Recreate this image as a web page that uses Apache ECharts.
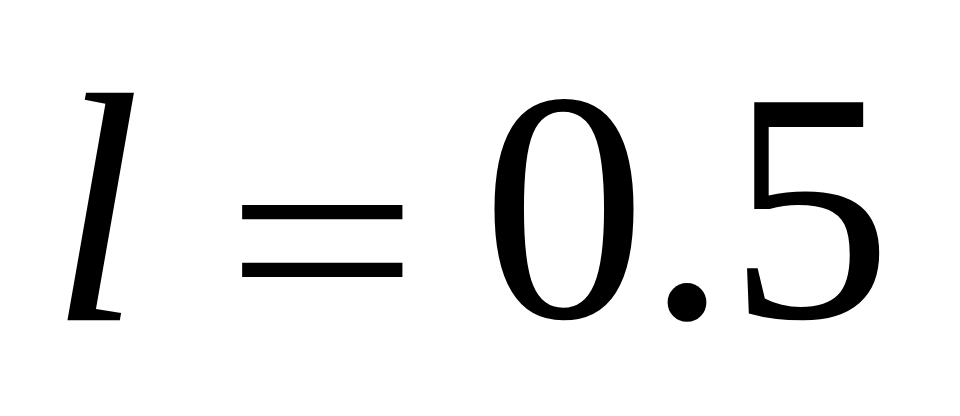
<!DOCTYPE html>
<html>
<head>
<meta charset="utf-8">
<script src="https://cdn.jsdelivr.net/npm/echarts@6/dist/echarts.min.js"></script>
<style>
html,body{margin:0;padding:0;background:#fff;}
#c{width:960px;height:416px;}
</style>
</head>
<body>
<div id="c"></div>
<script>
const symbolText = ['l'];
const operatorText = ['='];
const valueText = [0.5];

const chart = echarts.init(document.getElementById('c'), null, {renderer: 'canvas'});
const font = '"Times New Roman","Liberation Serif",serif';
const fs = 328;
chart.setOption({
  backgroundColor: '#ffffff',
  animation: false,
  graphic: [
    {type: 'text', x: 50, y: 234,
     style: {text: symbolText[0], fontFamily: font, fontStyle: 'italic', fontSize: fs, fill: '#000', verticalAlign: 'middle', align: 'left'}},
    {type: 'text', x: 225, y: 261, scaleX: 1.05, scaleY: 0.88,
     style: {text: operatorText[0], fontFamily: font, fontSize: fs, fill: '#000', verticalAlign: 'middle', align: 'left'}},
    {type: 'text', x: 482, y: 231,
     style: {text: String(valueText[0]), fontFamily: font, fontSize: fs, fill: '#000', verticalAlign: 'middle', align: 'left'}}
  ]
});
</script>
</body>
</html>
